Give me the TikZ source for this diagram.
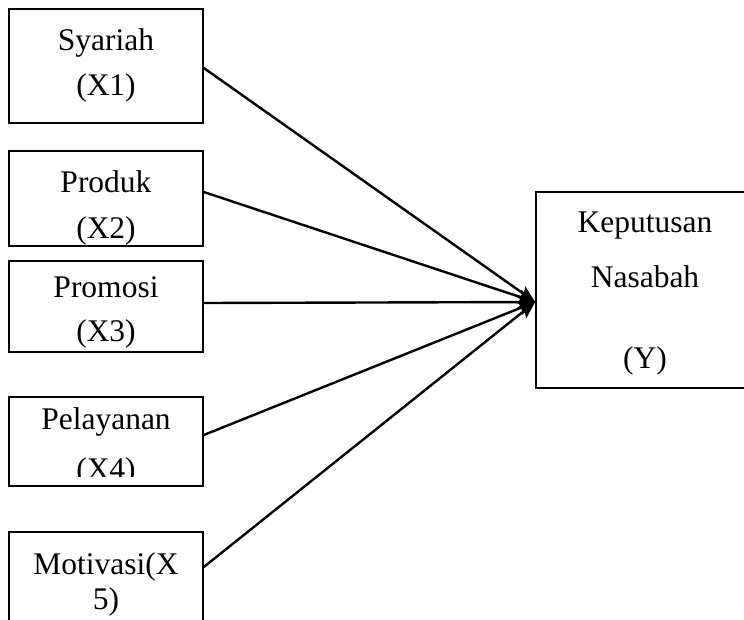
\documentclass[tikz,border=0pt]{standalone}
\usepackage{fontspec}
\setmainfont{Liberation Serif}
\usetikzlibrary{arrows.meta}
\begin{document}
\begin{tikzpicture}[x=1pt,y=-1pt,
  box/.style={draw=black,line width=1.6pt,rectangle,inner sep=0pt,fill=none},
  lbl/.style={anchor=base,inner sep=0pt,font=\fontsize{31.5}{36}\selectfont},
  conn/.style={line width=2.4pt,-{Stealth[length=17pt,width=14pt,inset=3pt]}}]
\useasboundingbox (0,0) rectangle (744,619);
\clip (0,0) rectangle (744,619);
% boxes
\node[box,minimum width=194pt,minimum height=114pt] (b1) at (106,66) {};
\node[box,minimum width=194pt,minimum height=95pt] (b2) at (106,198.5) {};
\node[box,minimum width=194pt,minimum height=91pt] (b3) at (106,306.5) {};
\node[box,minimum width=194pt,minimum height=89pt] (b4) at (106,441.5) {};
\node[box,minimum width=194pt,minimum height=120pt] (b5) at (106,592) {};
\node[box,minimum width=218pt,minimum height=196pt] (y) at (645,290) {};
% texts
\node[lbl] (t1a) at (106,50) {Syariah};
\node[lbl] (t1b) at (106,95) {(X1)};
\begin{scope}
\clip (10,152) rectangle (202,245);
\node[lbl] (t2a) at (106,192) {Produk};
\node[lbl] (t2b) at (106,238) {(X2)};
\end{scope}
\node[lbl] (t3a) at (106,297) {Promosi};
\node[lbl] (t3b) at (106,341) {(X3)};
\begin{scope}
\clip (10,398) rectangle (202,476);
\node[lbl] (t4a) at (106,429) {Pelayanan};
\node[lbl] (t4b) at (106,479) {(X4)};
\end{scope}
\node[lbl] (t5a) at (106,574) {Motivasi(X};
\node[lbl] (t5b) at (106,609) {5)};
\node[lbl] (ya) at (645,232) {Keputusan};
\node[lbl] (yb) at (645,287) {Nasabah};
\node[lbl] (yc) at (645,368) {(Y)};
% connectors
\coordinate (tip) at ([yshift=-12pt]y.west);
\draw[conn] ([yshift=-2pt]b1.east) -- (tip);
\draw[conn] ([yshift=6.5pt]b2.east) -- (tip);
\draw[conn] ([yshift=3.5pt]b3.east) -- (tip);
\draw[conn] ([yshift=6.5pt]b4.east) -- (tip);
\draw[conn] ([yshift=25pt]b5.east) -- (tip);
\end{tikzpicture}
\end{document}
